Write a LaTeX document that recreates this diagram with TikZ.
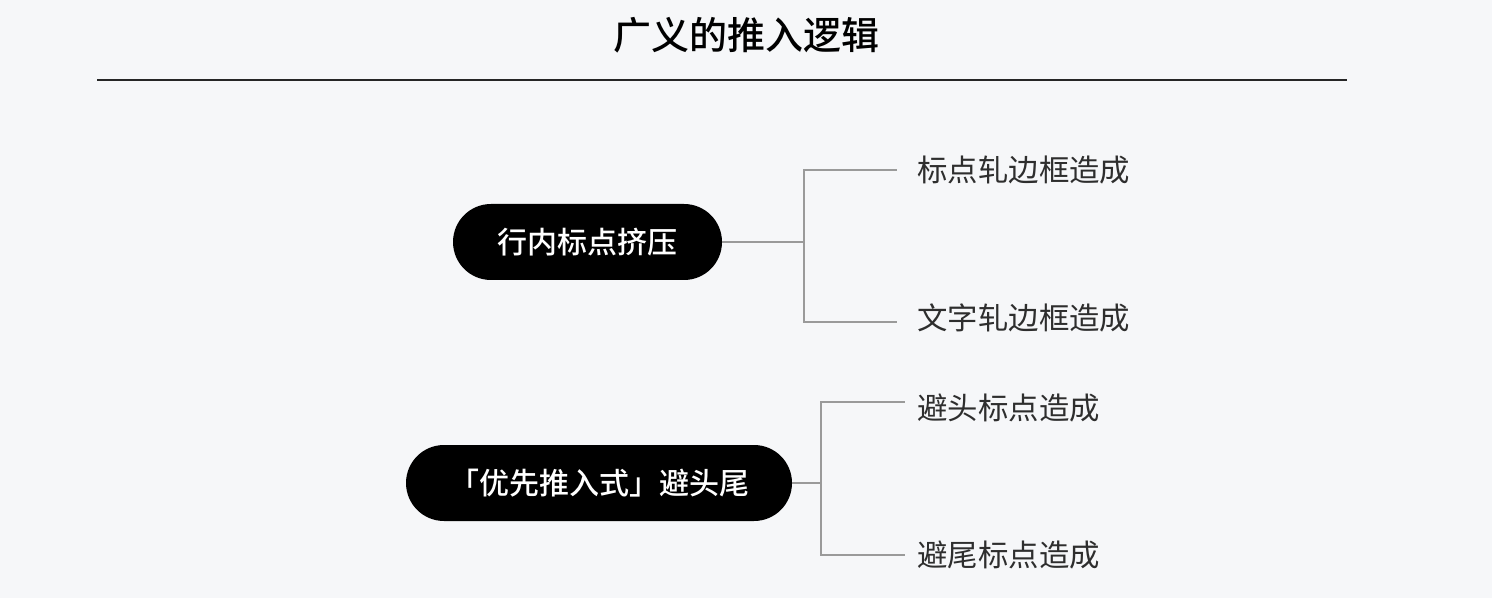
\documentclass[tikz,border=0pt]{standalone}
\usepackage{fontspec}
\setmainfont{Noto Sans CJK SC}
\newfontfamily\cjkmed{Noto Sans CJK SC}[UprightFont=* Medium]
\definecolor{bg}{HTML}{F6F7F9}
\definecolor{leafc}{HTML}{2E2E2E}
\definecolor{linec}{HTML}{9A9A9A}
\begin{document}
\begin{tikzpicture}[x=0.5pt,y=-0.5pt,
  pill/.style={fill=black,text=white,rounded corners=19pt,minimum height=38pt,inner sep=0pt,font=\cjkmed\fontsize{15pt}{18pt}\selectfont},
  leaf/.style={anchor=west,inner sep=0pt,text=leafc,font=\fontsize{15.2pt}{18pt}\selectfont},
  conn/.style={draw=linec,line width=1pt}]
\fill[bg] (0,0) rectangle (1492,598);
\useasboundingbox (0,0) rectangle (1492,598);
\node[font=\cjkmed\fontsize{19pt}{22pt}\selectfont] (title) at (746,35) {广义的推入逻辑};
\coordinate (rl) at (97,80);
\coordinate (rr) at (1347,80);
\draw[draw=black!85,line width=0.8pt] (rl) -- (rr);
\node[pill,minimum width=134.5pt] (n1) at (587.5,242) {行内标点挤压};
\node[pill,minimum width=193pt] (n2) at (599,483) {「优先推入式」避头尾};
\node[leaf] (l1) at (917,170) {标点轧边框造成};
\node[leaf] (l2) at (917,318) {文字轧边框造成};
\node[leaf] (l3) at (917,408) {避头标点造成};
\node[leaf] (l4) at (917,555) {避尾标点造成};
\coordinate (j1) at (804,242);
\coordinate (j2) at (821,483);
\draw[conn] (n1.east) -- (j1);
\draw[conn] (j1) |- ([xshift=-10pt]l1.west);
\draw[conn] (j1) |- ([xshift=-10pt,yshift=-2pt]l2.west);
\draw[conn] (n2.east) -- (j2);
\draw[conn] (j2) |- ([xshift=-6pt,yshift=3pt]l3.west);
\draw[conn] (j2) |- ([xshift=-6pt]l4.west);
\end{tikzpicture}
\end{document}
